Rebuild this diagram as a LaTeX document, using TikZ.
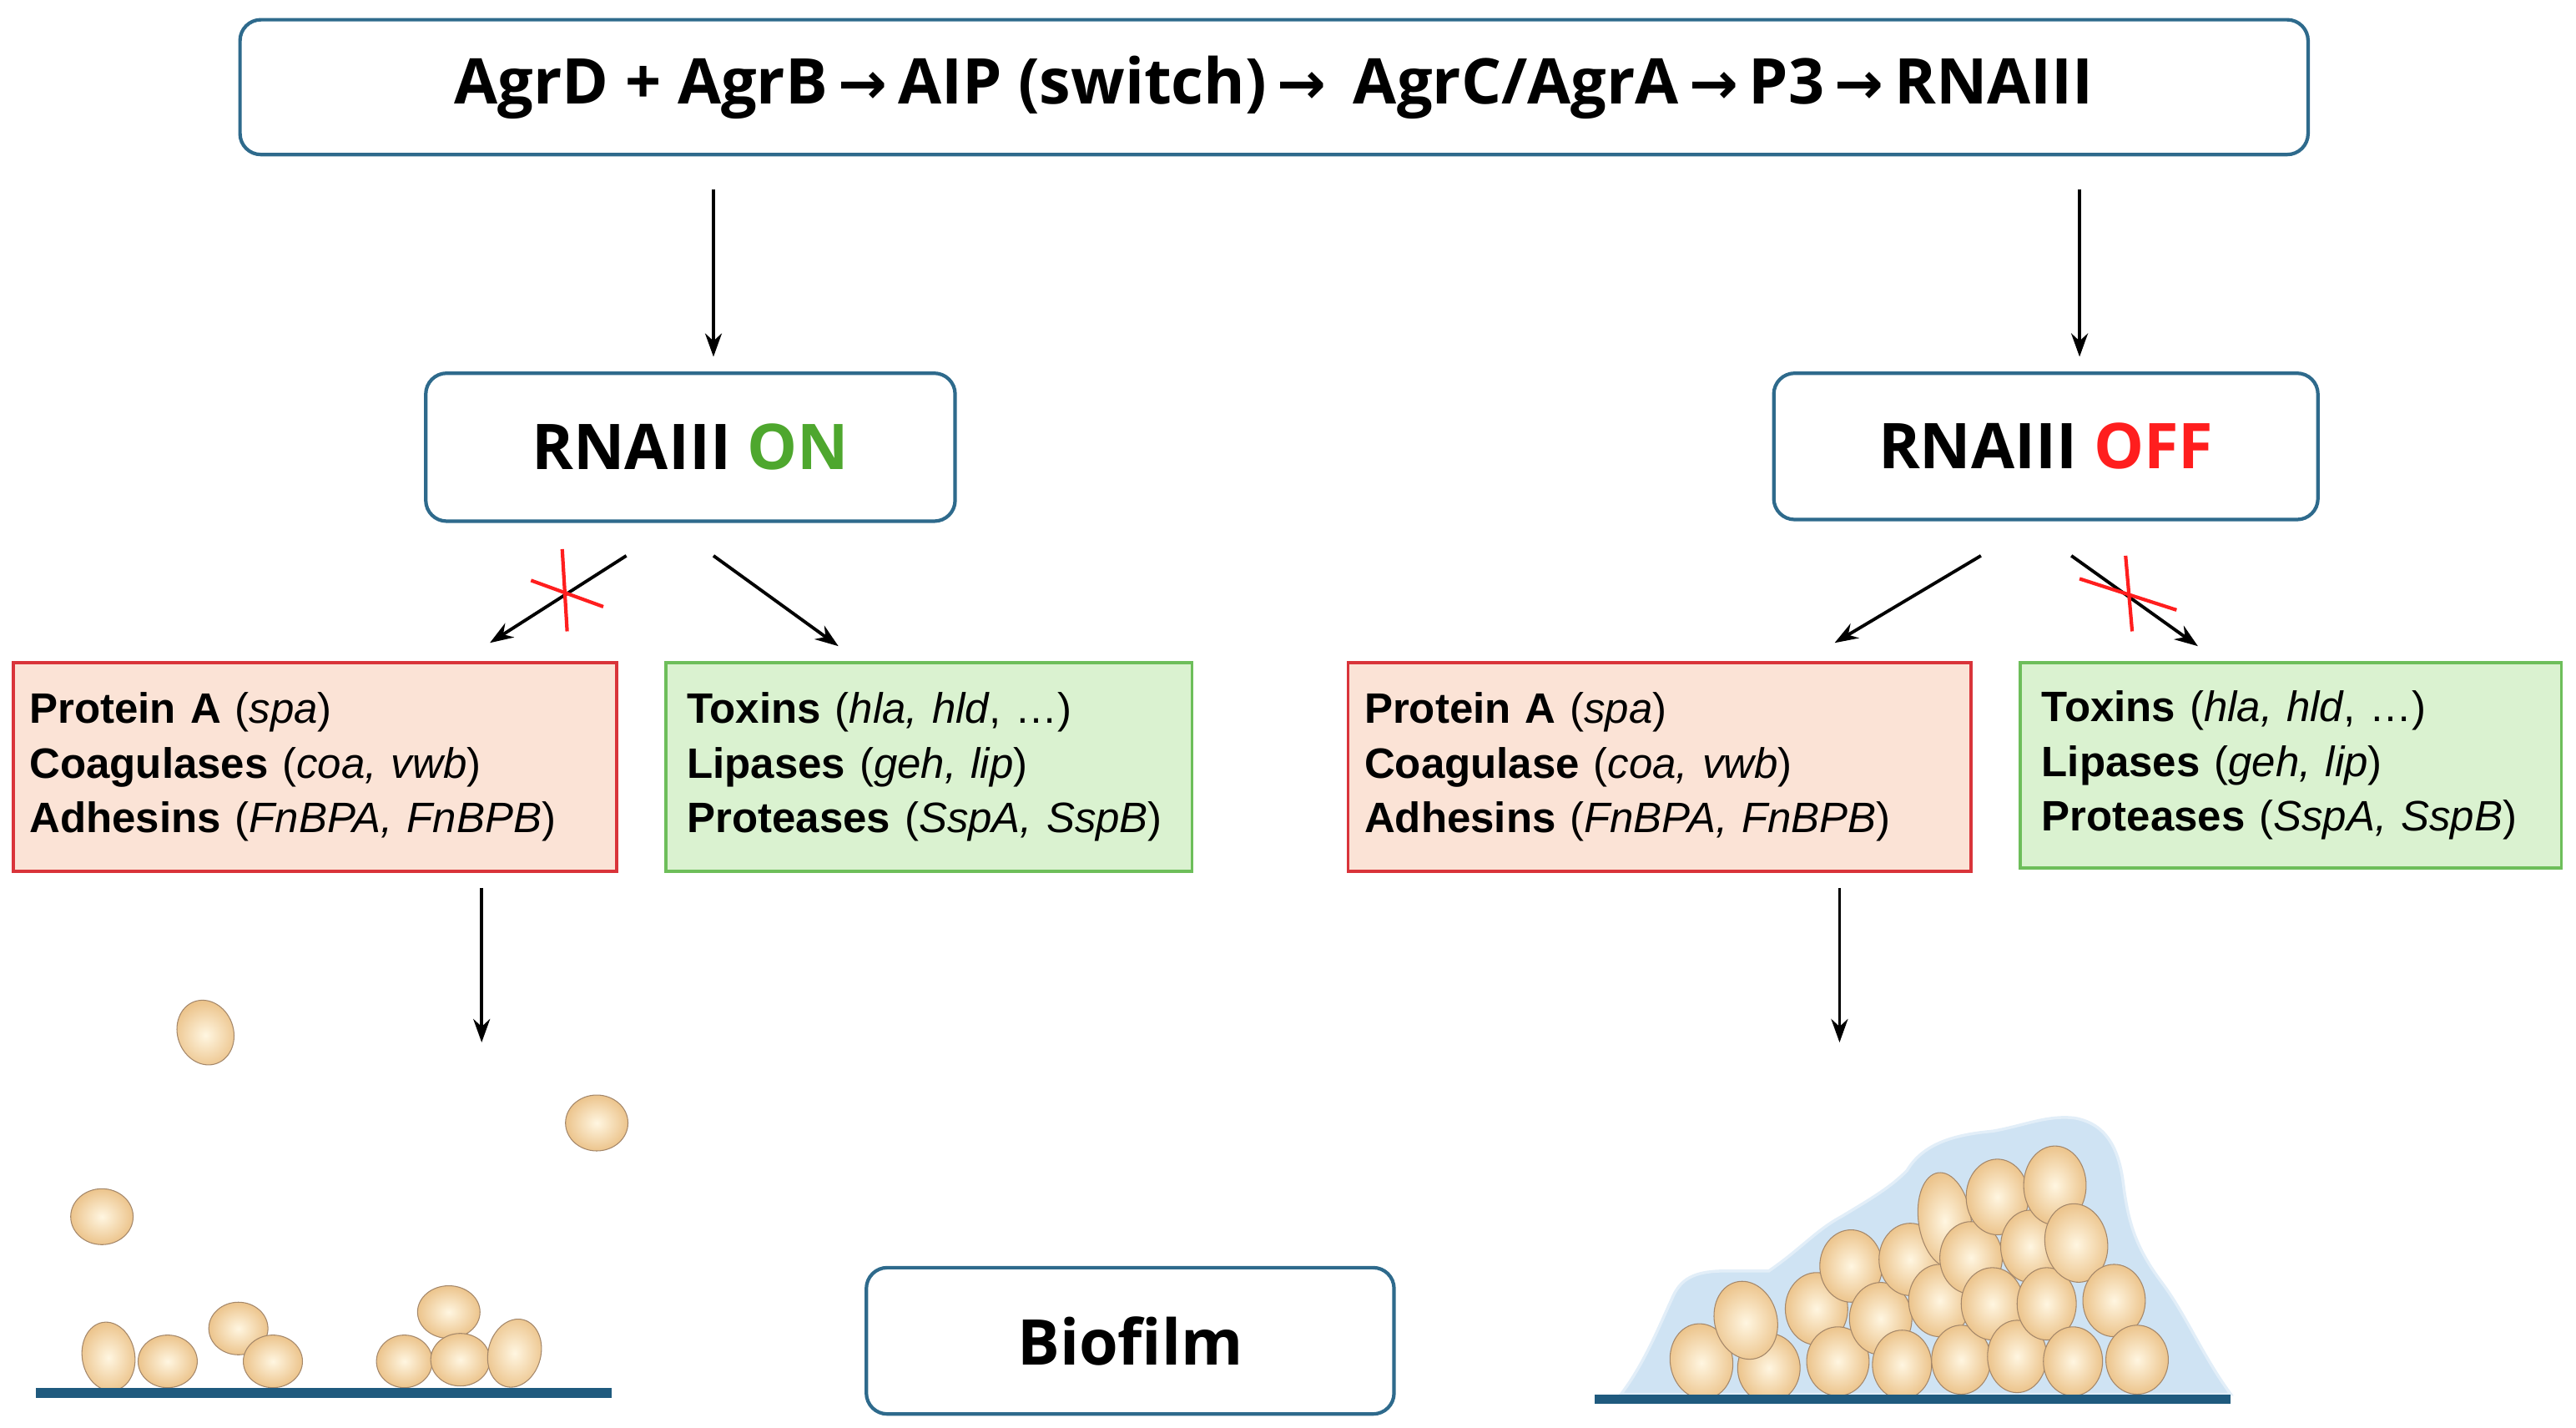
\documentclass[tikz,border=0pt]{standalone}
\usepackage{fontspec}
\setmainfont{Liberation Sans}
\newfontfamily\hdr{Open Sans}
\usetikzlibrary{arrows.meta,shapes.geometric}
\definecolor{bluebord}{HTML}{2E6A8C}
\definecolor{redbord}{HTML}{D9343A}
\definecolor{redfill}{HTML}{FBE3D6}
\definecolor{grnbord}{HTML}{6DBE5A}
\definecolor{grnfill}{HTML}{DAF2D0}
\definecolor{onc}{HTML}{4EA72E}
\definecolor{offc}{HTML}{FF1E1E}
\definecolor{groundc}{HTML}{1F5A7E}
\definecolor{slimec}{HTML}{CFE3F3}
\newcommand{\ra}{\,{\fontspec{DejaVu Sans}\fontsize{20}{20}\selectfont\char"2192}\,}
\tikzset{
 hbox/.style={draw=bluebord,line width=1.2pt,rounded corners=0.25cm,fill=white,font=\hdr\bfseries\fontsize{21.5}{26}\selectfont},
 rbox/.style={draw=redbord,fill=redfill,line width=1pt,align=left,inner sep=0pt,font=\fontsize{14.5}{18.6}\selectfont},
 gbox/.style={draw=grnbord,fill=grnfill,line width=1pt,align=left,inner sep=0pt,font=\fontsize{14.5}{18.6}\selectfont},
 arr/.style={line width=1.1pt,-{Stealth[length=0.28cm,width=0.2cm]}},
 xmark/.style={draw=offc,line width=1.2pt},
 cell/.style={draw=black!35!brown!70,line width=0.3pt,inner color={rgb,255:red,255;green,246;blue,225},outer color={rgb,255:red,236;green,196;blue,140}},
}
\begin{document}
\begin{tikzpicture}[x=0.0197cm,y=-0.0197cm]
\useasboundingbox (0,0) rectangle (1567,868.5);
% header
\node[hbox,minimum width=1258*0.0197cm,minimum height=82*0.0197cm] (top) at (775,53) {AgrD + AgrB\ra AIP (switch)\ra\ AgrC/AgrA\ra P3\ra RNAIII};
\node[hbox,minimum width=322*0.0197cm,minimum height=90*0.0197cm] (on) at (420,272) {RNAIII \textcolor{onc}{ON}};
\node[hbox,minimum width=331*0.0197cm,minimum height=89*0.0197cm] (off) at (1244.5,271.5) {RNAIII \textcolor{offc}{OFF}};
\node[hbox,minimum width=321*0.0197cm,minimum height=89*0.0197cm] (bio) at (687.5,815.5) {Biofilm};
\coordinate (t1) at (434,115); \coordinate (t1e) at (434,217);
\coordinate (t2) at (1265,115); \coordinate (t2e) at (1265,217);
\draw[arr] (t1) -- (t1e);
\draw[arr] (t2) -- (t2e);
% boxes
\node[rbox,minimum width=367*0.0197cm,minimum height=127*0.0197cm,text width=347*0.0197cm] (r1) at (191.5,466.5)
 {\textbf{Protein A} (\textit{spa})\\\textbf{Coagulases} (\textit{coa, vwb})\\\textbf{Adhesins} (\textit{FnBPA, FnBPB})};
\node[gbox,minimum width=320*0.0197cm,minimum height=127*0.0197cm,text width=294*0.0197cm] (g1) at (565,466.5)
 {\textbf{Toxins} (\textit{hla, hld}, \dots)\\\textbf{Lipases} (\textit{geh, lip})\\\textbf{Proteases} (\textit{SspA, SspB})};
\node[rbox,minimum width=379*0.0197cm,minimum height=127*0.0197cm,text width=359*0.0197cm] (r2) at (1009.5,466.5)
 {\textbf{Protein A} (\textit{spa})\\\textbf{Coagulase} (\textit{coa, vwb})\\\textbf{Adhesins} (\textit{FnBPA, FnBPB})};
\node[gbox,minimum width=329*0.0197cm,minimum height=125*0.0197cm,text width=303*0.0197cm] (g2) at (1393.5,465.5)
 {\textbf{Toxins} (\textit{hla, hld}, \dots)\\\textbf{Lipases} (\textit{geh, lip})\\\textbf{Proteases} (\textit{SspA, SspB})};
% branch arrows
\coordinate (a1) at (381,338); \coordinate (a1e) at (298,391);
\coordinate (a2) at (434,338); \coordinate (a2e) at (510,393);
\coordinate (a3) at (1205,338); \coordinate (a3e) at (1116,391);
\coordinate (a4) at (1260,338); \coordinate (a4e) at (1337,393);
\draw[arr] (a1) -- (a1e);
\draw[arr] (a2) -- (a2e);
\draw[arr] (a3) -- (a3e);
\draw[arr] (a4) -- (a4e);
\draw[xmark] (342,334) -- (345,384);
\draw[xmark] (323,353) -- (367,369);
\draw[xmark] (1293,338) -- (1297,384);
\draw[xmark] (1265,352) -- (1324,371);
% down arrows
\coordinate (d1) at (293,540); \coordinate (d1e) at (293,634);
\coordinate (d2) at (1119,540); \coordinate (d2e) at (1119,634);
\draw[arr] (d1) -- (d1e);
\draw[arr] (d2) -- (d2e);
% left cells
\foreach \x/\y/\a/\b/\r in {125/628/17/20/20,363/683/19/17/0,62/740/19/17/0,
 66/825/16/21/10,145/808/18/16/0,102/828/18/16/0,166/828/18/16/0,
 273/798/19/16/0,246/828/17/16/0,280/827/18/16/0,313/823/16/21/-15}
 \path[cell,rotate around={\r:(\x,\y)}] (\x,\y) ellipse[x radius=\a,y radius=\b];
\fill[groundc] (22,844) rectangle (372,850);
% right biofilm
\path[fill=slimec,draw=slimec!60!white,line width=1pt] (986,848) .. controls (1000,830) and (1010,805) .. (1017,790) .. controls (1022,778) and (1030,773) .. (1050,773)
 -- (1076,773) .. controls (1095,760) and (1105,748) .. (1120,740) .. controls (1140,728) and (1150,722) .. (1160,712)
 .. controls (1170,695) and (1190,690) .. (1212,688) .. controls (1230,685) and (1245,678) .. (1262,680)
 .. controls (1285,684) and (1290,705) .. (1292,723) .. controls (1295,745) and (1300,760) .. (1315,780)
 .. controls (1330,800) and (1340,825) .. (1357,848) -- cycle;
\foreach \x/\y/\r/\a/\b in {1035/828/10/19/23,1076/832/0/19/21,1062/803/15/19/24,1105/796/0/19/22,1118/828/0/19/21,
 1126/770/0/19/22,1144/802/0/19/22,1157/830/0/18/21,1162/766/0/19/22,1183/742/8/16/29,1180/791/0/19/22,
 1193/827/0/18/21,1199/765/0/19/22,1212/793/0/19/22,1215/728/0/19/23,1227/825/0/18/22,1235/758/0/18/22,
 1250/721/0/19/24,1245/793/0/18/22,1263/756/10/19/24,1261/828/0/18/21,1286/791/0/19/22,1300/827/0/19/21}
 \path[cell,rotate around={\r:(\x,\y)}] (\x,\y) ellipse[x radius=\a,y radius=\b];
\fill[groundc] (970,848) rectangle (1357,854);
\end{tikzpicture}
\end{document}
